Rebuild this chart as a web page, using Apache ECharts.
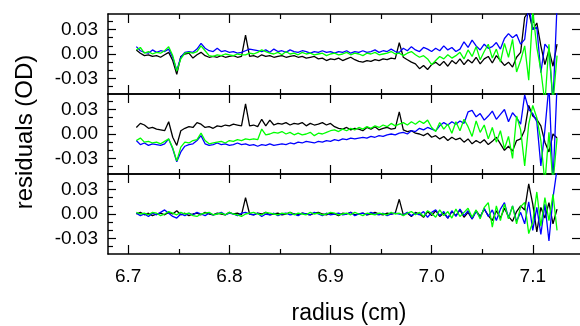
<!DOCTYPE html>
<html><head><meta charset="utf-8">
<script src="https://cdn.jsdelivr.net/npm/echarts@6/dist/echarts.min.js"></script>
<style>html,body{margin:0;padding:0;background:#fff}#c{width:580px;height:326px}</style>
</head><body><div id="c"></div>
<script>
// radius (cm) sample positions
const radius = [
6.708,6.712,6.716,6.720,6.724,6.728,6.732,6.736,6.740,6.744,
6.748,6.752,6.756,6.760,6.764,6.768,6.772,6.776,6.780,6.784,
6.788,6.792,6.796,6.800,6.804,6.808,6.812,6.816,6.820,6.824,
6.828,6.832,6.836,6.840,6.844,6.848,6.852,6.856,6.860,6.864,
6.868,6.872,6.876,6.880,6.884,6.888,6.892,6.896,6.900,6.904,
6.908,6.912,6.916,6.920,6.924,6.928,6.932,6.936,6.940,6.944,
6.948,6.952,6.956,6.960,6.964,6.968,6.972,6.976,6.980,6.984,
6.988,6.992,6.996,7.000,7.004,7.008,7.012,7.016,7.020,7.024,
7.028,7.032,7.036,7.040,7.044,7.048,7.052,7.056,7.060,7.064,
7.068,7.072,7.076,7.080,7.084,7.088,7.092,7.096,7.100,7.104,
7.108,7.112,7.116,7.120,7.124];

// top panel residuals (OD)
const topBlack = [
0.005,0.001,-0.002,-0.001,-0.003,-0.002,-0.004,-0.001,0.002,-0.008,
-0.025,-0.003,0.000,0.001,-0.005,-0.001,0.002,-0.002,-0.004,-0.003,
-0.004,-0.002,-0.004,-0.003,-0.002,-0.004,-0.003,0.023,-0.003,-0.002,
-0.004,-0.001,-0.003,-0.002,-0.004,-0.003,-0.002,-0.004,-0.003,-0.002,
-0.004,-0.003,-0.005,-0.004,-0.003,-0.006,-0.005,-0.008,-0.006,-0.007,
-0.005,-0.008,-0.006,-0.004,-0.007,-0.009,-0.010,-0.008,-0.009,-0.007,
-0.008,-0.006,-0.007,-0.005,-0.006,0.014,-0.004,-0.007,-0.010,-0.012,
-0.018,-0.014,-0.019,-0.013,-0.010,-0.014,-0.009,-0.015,-0.008,-0.012,
-0.006,-0.013,-0.007,-0.011,-0.004,-0.012,-0.006,-0.003,-0.011,-0.002,
-0.008,-0.014,-0.010,-0.016,-0.004,0.002,0.045,0.052,0.030,0.038,
0.010,-0.013,0.005,-0.015,0.012];
const topBlue = [
0.009,0.004,0.002,0.001,0.005,0.002,0.004,0.003,0.006,-0.004,
-0.020,-0.004,0.002,0.003,0.002,0.006,0.013,0.007,0.004,0.003,
0.007,0.003,0.004,0.002,0.003,0.001,0.002,0.004,0.006,0.005,
0.004,0.003,0.005,0.002,0.006,0.003,0.004,0.002,0.005,0.003,
0.002,0.004,0.003,0.001,0.003,0.002,0.004,0.002,0.003,0.001,
0.003,0.002,0.004,0.001,0.003,0.002,0.004,0.002,0.003,0.005,
0.002,0.004,0.003,0.006,0.003,0.002,0.007,0.004,0.009,0.005,
0.003,0.008,0.006,0.003,0.007,0.004,0.010,0.005,0.008,0.003,
0.006,0.015,0.008,0.017,0.010,0.005,0.012,0.007,0.009,0.014,
0.006,0.019,0.025,0.020,0.024,0.012,0.018,0.060,0.030,0.033,
-0.023,0.012,0.006,-0.060,0.060];
const topGreen = [
0.005,0.008,0.001,0.003,0.000,0.002,0.001,0.004,0.009,-0.002,
-0.021,-0.006,0.001,0.002,0.001,0.003,0.010,0.004,-0.002,-0.003,
-0.001,-0.002,0.000,-0.001,-0.002,0.000,-0.001,-0.001,0.001,0.000,
0.002,0.005,0.003,0.001,0.000,0.002,-0.001,0.003,0.000,0.001,
-0.001,0.002,0.000,0.001,-0.001,0.000,0.001,-0.002,0.000,0.001,
-0.001,0.000,0.002,-0.001,0.001,0.000,-0.002,0.001,0.000,0.002,
-0.001,0.000,0.001,0.003,0.000,0.001,-0.002,0.001,0.003,-0.001,
-0.004,-0.002,-0.006,-0.013,-0.008,-0.003,-0.006,-0.001,-0.005,-0.002,
0.002,-0.006,0.005,-0.003,0.009,-0.007,0.003,0.012,-0.005,0.006,
-0.010,0.013,-0.004,0.018,-0.022,-0.008,0.010,-0.032,0.052,0.008,
-0.020,-0.060,0.012,-0.060,-0.002];

// middle panel residuals (OD)
const midBlack = [
0.008,0.013,0.011,0.007,0.008,0.006,0.005,0.004,0.015,-0.004,
-0.014,0.004,0.007,0.009,0.008,0.014,0.012,0.008,0.009,0.007,
0.010,0.009,0.011,0.010,0.012,0.011,0.010,0.037,0.010,0.011,
0.009,0.018,0.010,0.017,0.011,0.013,0.012,0.014,0.011,0.013,
0.012,0.014,0.010,0.013,0.011,0.012,0.014,0.011,0.013,0.009,
0.007,0.006,0.008,0.005,0.007,0.006,0.004,0.008,0.006,0.009,
0.005,0.007,0.008,0.006,0.007,0.027,0.005,0.003,0.004,0.001,
0.000,-0.002,0.001,-0.004,-0.002,-0.006,-0.003,-0.008,-0.004,-0.007,
-0.005,-0.010,-0.006,-0.012,-0.008,-0.011,-0.007,-0.013,-0.009,-0.004,
-0.012,-0.020,-0.015,-0.021,-0.008,-0.006,0.005,0.035,0.022,0.018,
0.010,-0.010,-0.022,0.000,-0.005];
const midBlue = [
-0.008,-0.013,-0.011,-0.014,-0.012,-0.013,-0.014,-0.012,-0.006,-0.018,
-0.034,-0.022,-0.015,-0.013,-0.012,-0.008,-0.002,-0.012,-0.014,-0.013,
-0.011,-0.013,-0.012,-0.014,-0.013,-0.011,-0.013,-0.012,-0.014,-0.013,
-0.015,-0.013,-0.014,-0.012,-0.014,-0.013,-0.012,-0.013,-0.011,-0.012,
-0.010,-0.011,-0.009,-0.010,-0.011,-0.009,-0.010,-0.008,-0.009,-0.007,
-0.008,-0.006,-0.007,-0.005,-0.006,-0.005,-0.004,-0.005,-0.003,-0.004,
-0.002,-0.003,-0.001,0.000,-0.001,0.001,0.002,0.000,0.004,0.003,
0.007,0.005,0.008,0.006,0.004,0.010,0.014,0.011,0.015,0.012,
0.016,0.013,0.027,0.029,0.021,0.025,0.017,0.022,0.028,0.018,
0.024,0.030,0.015,0.026,0.020,0.012,0.048,0.030,0.025,0.015,
-0.039,0.005,0.060,-0.060,0.060];
const midGreen = [
-0.008,-0.005,-0.010,-0.009,-0.011,-0.010,-0.012,-0.009,-0.006,-0.017,
-0.033,-0.016,-0.010,-0.011,-0.008,-0.007,0.001,-0.008,-0.012,-0.011,
-0.010,-0.009,-0.011,-0.008,-0.009,-0.007,-0.008,-0.006,-0.007,-0.006,
-0.007,0.006,-0.001,0.000,0.002,0.001,0.003,0.000,0.002,-0.001,
0.001,-0.001,0.000,0.002,-0.002,0.001,0.000,0.002,0.004,0.005,
0.003,0.006,0.004,0.007,0.005,0.008,0.006,0.009,0.007,0.010,
0.008,0.011,0.009,0.013,0.010,0.012,0.014,0.011,0.015,0.012,
0.016,0.013,0.017,0.008,0.003,0.014,0.006,0.012,0.001,0.015,
0.004,0.018,0.009,-0.003,0.016,0.002,0.011,-0.006,0.008,-0.010,
0.004,-0.018,-0.003,-0.030,0.022,0.005,-0.039,0.012,0.035,0.020,
-0.008,-0.060,0.002,-0.060,-0.005];

// bottom panel residuals (OD)
const botBlack = [
0.000,0.002,-0.001,0.001,-0.002,0.000,0.001,-0.001,0.002,0.000,
0.004,-0.001,0.001,-0.002,0.000,0.001,-0.001,0.002,0.000,-0.001,
0.001,0.000,-0.001,0.002,0.000,0.001,-0.001,0.020,0.000,-0.001,
0.001,0.000,0.002,-0.001,0.000,0.001,-0.001,0.000,0.002,0.000,
-0.001,0.001,0.000,-0.001,0.001,0.002,0.000,-0.001,0.001,0.000,
-0.002,0.001,0.000,0.002,-0.001,0.000,0.001,-0.001,0.000,0.002,
0.000,-0.001,0.001,0.000,0.001,0.018,-0.001,0.001,-0.003,0.002,
0.000,-0.004,0.003,-0.002,0.004,-0.003,0.001,-0.005,0.003,-0.002,
0.005,-0.004,0.002,-0.006,0.004,-0.003,0.006,-0.002,-0.008,0.004,
-0.005,0.007,-0.003,-0.009,0.003,0.010,0.005,0.037,0.012,-0.022,
0.008,-0.005,0.014,-0.012,0.006];
const botBlue = [
0.001,-0.002,0.000,-0.003,0.001,-0.001,0.002,0.005,0.001,-0.003,
-0.005,0.000,-0.002,0.001,-0.001,0.002,0.000,-0.002,0.001,-0.001,
0.000,0.002,-0.001,0.001,0.000,-0.002,0.001,0.002,0.000,-0.001,
0.001,-0.003,0.000,-0.001,0.001,-0.002,0.000,0.001,-0.001,0.000,
-0.002,0.001,0.000,-0.001,0.002,0.000,-0.002,0.001,-0.001,0.000,
0.001,-0.001,0.000,0.002,-0.002,0.000,0.001,-0.001,0.002,0.000,
-0.001,0.001,-0.002,0.000,0.001,0.000,-0.001,0.002,-0.002,0.001,
-0.001,0.003,-0.004,0.002,0.005,-0.002,0.003,-0.005,0.004,-0.003,
0.006,-0.002,0.004,-0.006,0.003,-0.004,0.007,-0.003,0.005,-0.008,
0.006,0.014,-0.005,0.010,-0.009,0.002,-0.012,0.015,-0.020,0.008,
-0.025,0.012,-0.033,0.020,0.055];
const botGreen = [
0.002,0.000,0.001,-0.001,0.002,0.001,-0.002,0.000,0.003,0.001,
-0.001,0.002,0.000,0.001,-0.002,-0.003,0.000,0.001,0.002,-0.001,
0.000,0.001,-0.001,0.002,0.000,-0.001,-0.003,0.000,0.001,0.002,
0.000,-0.001,0.002,0.001,0.000,-0.001,0.001,0.000,0.002,-0.001,
0.001,0.000,-0.001,0.002,0.000,0.001,-0.001,0.000,0.002,0.001,
-0.001,0.000,0.001,-0.001,0.002,0.000,-0.002,0.001,0.000,-0.001,
0.001,0.000,-0.001,0.002,0.000,0.001,-0.002,0.001,0.003,-0.001,
0.002,-0.003,0.004,0.001,-0.004,0.005,-0.002,0.003,-0.005,0.006,
-0.003,0.002,0.007,-0.004,0.005,-0.006,0.008,0.014,-0.016,0.010,
-0.008,0.012,-0.006,0.010,-0.012,0.009,0.014,-0.024,-0.010,0.027,
-0.015,0.020,-0.008,0.024,-0.020];

const xMajorTicks = [6.7, 6.8, 6.9, 7.0, 7.1];
const xMinorTicks = [6.75, 6.85, 6.95, 7.05];
const yMajorTicks = [-0.03, 0.00, 0.03];
const yMinorTicks = [-0.04, -0.02, -0.01, 0.01, 0.02, 0.04];
const xTitle = 'radius (cm)';
const yTitle = 'residuals (OD)';

const panels = [[topBlack, topBlue, topGreen], [midBlack, midBlue, midGreen], [botBlack, botBlue, botGreen]];
const colors = ['#000000', '#0000ff', '#00ff00'];
const X_MIN = 6.68, X_MAX = 7.1467, Y_MIN = -0.049, Y_MAX = 0.049;
const FONT = '"Liberation Sans", Arial, sans-serif';
const LINE = {show: true, onZero: false, lineStyle: {color: '#000', width: 1.5}};
const NOLINE = {show: false, onZero: false};

const grid = [], xAxis = [], yAxis = [], series = [];
for (let p = 0; p < 3; p++) {
  grid.push({left: 108, width: 478, top: 14 + 80 * p, height: 80, containLabel: false});
  const base = {type: 'value', gridIndex: p, min: X_MIN, max: X_MAX, splitLine: {show: false}};
  xAxis.push(Object.assign({}, base, {position: 'bottom', axisLine: LINE,
    axisTick: {show: true, inside: true, length: 9, customValues: xMajorTicks, lineStyle: {color: '#000', width: 1.2}},
    axisLabel: {show: p === 2, customValues: xMajorTicks, margin: 13, color: '#000', fontSize: 19, fontFamily: FONT,
      formatter: v => v.toFixed(1)}}));
  xAxis.push(Object.assign({}, base, {position: 'bottom', axisLine: NOLINE,
    axisTick: {show: true, inside: true, length: 5, customValues: xMinorTicks, lineStyle: {color: '#000', width: 1.2}},
    axisLabel: {show: false}}));
  xAxis.push(Object.assign({}, base, {position: 'top', axisLine: LINE,
    axisTick: {show: true, inside: true, length: 9, customValues: xMajorTicks, lineStyle: {color: '#000', width: 1.2}},
    axisLabel: {show: false}}));
  xAxis.push(Object.assign({}, base, {position: 'top', axisLine: NOLINE,
    axisTick: {show: true, inside: true, length: 5, customValues: xMinorTicks, lineStyle: {color: '#000', width: 1.2}},
    axisLabel: {show: false}}));
  const ybase = {type: 'value', gridIndex: p, min: Y_MIN, max: Y_MAX, splitLine: {show: false}};
  yAxis.push(Object.assign({}, ybase, {position: 'left', axisLine: LINE,
    axisTick: {show: true, inside: true, length: 8, customValues: yMajorTicks, lineStyle: {color: '#000', width: 1.2}},
    axisLabel: {show: true, customValues: yMajorTicks, margin: 10, color: '#000', fontSize: 19, fontFamily: FONT,
      formatter: v => (Math.abs(v) < 1e-9 ? 0 : v).toFixed(2)}}));
  yAxis.push(Object.assign({}, ybase, {position: 'left', axisLine: NOLINE,
    axisTick: {show: true, inside: true, length: 5, customValues: yMinorTicks, lineStyle: {color: '#000', width: 1.2}},
    axisLabel: {show: false}}));
  yAxis.push(Object.assign({}, ybase, {position: 'right', axisLine: NOLINE,
    axisTick: {show: true, inside: true, length: 8, customValues: yMajorTicks, lineStyle: {color: '#000', width: 1.2}},
    axisLabel: {show: false}}));
  for (let s = 0; s < 3; s++) {
    const vals = panels[p][s];
    series.push({type: 'line', xAxisIndex: p * 4, yAxisIndex: p * 3, clip: true,
      showSymbol: false, symbol: 'none', animation: false,
      lineStyle: {color: colors[s], width: 1.3}, itemStyle: {color: colors[s]},
      data: radius.map((r, i) => [r, vals[i]])});
  }
}

const chart = echarts.init(document.getElementById('c'), null, {renderer: 'canvas'});
chart.setOption({
  animation: false,
  backgroundColor: '#fff',
  grid, xAxis, yAxis, series,
  graphic: [
    {type: 'text', x: 349, y: 314, style: {text: xTitle, font: '23px ' + FONT, fill: '#000', align: 'center', verticalAlign: 'middle'}},
    {type: 'text', x: 25, y: 132, rotation: Math.PI / 2, style: {text: yTitle, font: '24px ' + FONT, fill: '#000', align: 'center', verticalAlign: 'middle'}}
  ]
});
</script></body></html>
